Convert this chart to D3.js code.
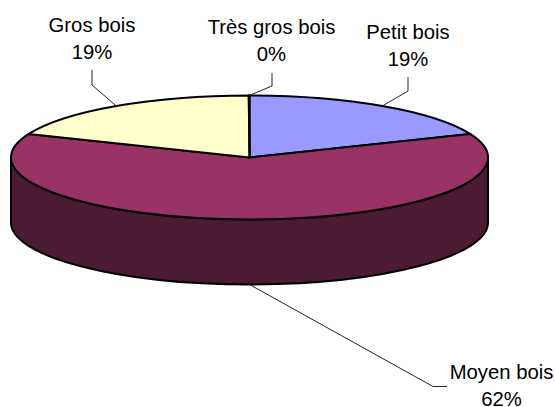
<!DOCTYPE html>
<html>
<head>
<meta charset="utf-8">
<script src="https://cdn.jsdelivr.net/npm/d3@7"></script>
<style>
    body { margin: 0; background: #fff; }
    text { font-family: "Liberation Sans", Arial, sans-serif; font-size: 20.3px; fill: #000; }
</style>
</head>
<body>
<div id="chart"></div>
<script>
var categories = ["Petit bois", "Moyen bois", "Gros bois", "Très gros bois"];
var shares = [18.8, 62.4, 18.75, 0.05];
var colors = ["#9999ff", "#993366", "#ffffcc", "#ccffff"];
var wallColor = "#4c1a33";

// label centre, first baseline and elbow of the leader, same order as categories
var labelLayout = [
    { x: 408, y: 39, lead: [[408, 77], [408, 91]] },
    { x: 501.5, y: 379, lead: [[447, 386.5], [433, 386.5]] },
    { x: 92, y: 32, lead: [[92, 70], [92, 85]] },
    { x: 271.5, y: 34, lead: [[272, 73], [272, 86]] }
];

var W = 555,
    H = 407,
    cx = 249.5,
    cy = 157.5,
    rx = 238.5,
    ry = 62,
    depth = 65,
    lineGap = 27;

var svg = d3.select("#chart")
    .append("svg")
    .attr("width", W)
    .attr("height", H)
    .style("display", "block");

// side of the disc, only the front half shows
svg.append("path")
    .attr("d", "M" + (cx - rx) + "," + cy +
        "A" + rx + "," + ry + " 0 0 0 " + (cx + rx) + "," + cy +
        "V" + (cy + depth) +
        "A" + rx + "," + ry + " 0 0 1 " + (cx - rx) + "," + (cy + depth) + "Z")
    .attr("fill", wallColor)
    .attr("stroke", "#000")
    .attr("stroke-width", 2)
    .attr("stroke-linejoin", "round");

var pie = d3.pie().sort(null);
var slices = pie(shares);
var arc = d3.arc().innerRadius(0).outerRadius(rx);
var total = d3.sum(shares);

var disc = svg.append("g")
    .attr("transform", "translate(" + cx + "," + cy + ") scale(1," + (ry / rx) + ")");

disc.selectAll("path")
    .data(slices)
    .enter()
    .append("path")
    .attr("d", arc)
    .attr("fill", function(d, i) {
        return colors[i];
    })
    .attr("stroke", "#000")
    .attr("stroke-width", 2)
    .attr("stroke-linejoin", "round")
    .attr("vector-effect", "non-scaling-stroke");

// where a leader touches the pie: rim at the middle of the slice
function anchor(d) {
    var a = (d.startAngle + d.endAngle) / 2;
    var x = cx + rx * Math.sin(a);
    var y = cy - ry * Math.cos(a);
    // front slices are read on the bottom edge of the side
    if (Math.cos(a) < 0) {
        y += depth;
    }
    return [x, y];
}

svg.selectAll(".leader")
    .data(slices)
    .enter()
    .append("path")
    .attr("class", "leader")
    .attr("d", function(d, i) {
        return d3.line()(labelLayout[i].lead.concat([anchor(d)]));
    })
    .attr("fill", "none")
    .attr("stroke", "#222")
    .attr("stroke-width", 1);

var labels = svg.selectAll(".label")
    .data(slices)
    .enter()
    .append("text")
    .attr("class", "label")
    .attr("text-anchor", "middle");

labels.append("tspan")
    .attr("x", function(d, i) {
        return labelLayout[i].x;
    })
    .attr("y", function(d, i) {
        return labelLayout[i].y;
    })
    .text(function(d, i) {
        return categories[i];
    });

labels.append("tspan")
    .attr("x", function(d, i) {
        return labelLayout[i].x;
    })
    .attr("y", function(d, i) {
        return labelLayout[i].y + lineGap;
    })
    .text(function(d) {
        return Math.round(d.data / total * 100) + "%";
    });
</script>
</body>
</html>
